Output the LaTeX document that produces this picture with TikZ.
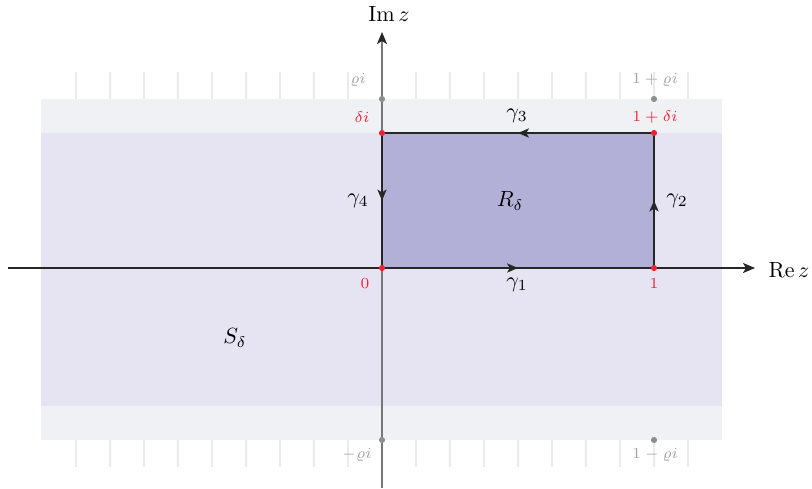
\documentclass[tikz,border=0pt]{standalone}
\usetikzlibrary{arrows.meta,decorations.markings}
\definecolor{bandout}{HTML}{F0F1F4}
\definecolor{bandin}{HTML}{E6E4F2}
\definecolor{rectfill}{HTML}{B3B0D8}
\definecolor{ptred}{HTML}{EE2233}
\definecolor{ptgray}{HTML}{8E8E92}
\definecolor{lblgray}{HTML}{A2A2A6}
\definecolor{tickgray}{HTML}{EAEAEE}
\definecolor{axisgray}{HTML}{76767C}
\tikzset{
  redlbl/.style={text=ptred,font=\scriptsize,inner sep=0pt},
  graylbl/.style={text=lblgray,font=\scriptsize,inner sep=0pt},
  mainlbl/.style={font=\normalsize,inner sep=0pt},
  reddot/.style={circle,fill=ptred,inner sep=0pt,minimum size=2.8pt},
  graydot/.style={circle,fill=ptgray,inner sep=0pt,minimum size=2.8pt},
  edge/.style={line width=0.65pt,draw=black!85},
  midarrow/.style={postaction={decorate,decoration={markings,mark=at position 0.5 with {\arrow{Stealth[length=5pt,width=4.2pt,inset=1.3pt]}}}}},
  tickline/.style={draw=tickgray,line width=0.5pt},
}
\begin{document}
\begin{tikzpicture}[x=0.4545pt,y=-0.4545pt]
\useasboundingbox (0,0) rectangle (812,488);
% bands
\fill[bandout] (41,99) rectangle (722,440);
\fill[bandin] (41,133) rectangle (722,406);
% ticks
\foreach \k in {-9,...,9}{
  \draw[tickline] (382+34*\k,72) -- (382+34*\k,99);
  \draw[tickline] (382+34*\k,440) -- (382+34*\k,467);
}
% rectangle
\coordinate (O) at (382,268);
\coordinate (A) at (654,268);
\coordinate (B) at (654,133);
\coordinate (C) at (382,133);
\fill[rectfill] (O) rectangle (B);
% axes
\coordinate (xs) at (8,268);
\coordinate (xe) at (755,268);
\coordinate (ys) at (382,488);
\coordinate (ye) at (382,32);
\draw[line width=0.6pt,axisgray,-{Stealth[length=5.5pt,width=4.6pt,inset=1.4pt,black!85]}] (ys) -- (ye);
\draw[line width=0.6pt,black!85,-{Stealth[length=5.5pt,width=4.6pt,inset=1.4pt]}] (xs) -- (xe);
% contour
\draw[edge,midarrow] (O) -- (A);
\draw[edge,midarrow] (A) -- (B);
\draw[edge,midarrow] (B) -- (C);
\draw[edge,midarrow] (C) -- (O);
% dots
\node[reddot] (d0) at (O) {};
\node[reddot] (d1) at (A) {};
\node[reddot] (d2) at (B) {};
\node[reddot] (d3) at (C) {};
\node[graydot] (g1) at (382,99) {};
\node[graydot] (g2) at (654,99) {};
\node[graydot] (g3) at (382,440) {};
\node[graydot] (g4) at (654,440) {};
% labels
\node[mainlbl] (imz) at (389,14) {$\mathrm{Im}\,z$};
\node[mainlbl] (rez) at (789,270) {$\mathrm{Re}\,z$};
\node[graylbl] (lrho) at (358,80) {$\varrho i$};
\node[redlbl] (ldel) at (362,117) {$\delta i$};
\node[graylbl] (l1rho) at (655,80) {$1+\varrho i$};
\node[redlbl] (l1del) at (655,117) {$1+\delta i$};
\node[redlbl] (l0) at (365,284) {$0$};
\node[redlbl] (l1) at (654,284) {$1$};
\node[graylbl] (lmrho) at (357,455) {$-\varrho i$};
\node[graylbl] (l1mrho) at (655,455) {$1-\varrho i$};
\node[mainlbl] (g1l) at (517,285) {$\gamma_1$};
\node[mainlbl] (g2l) at (677,201) {$\gamma_2$};
\node[mainlbl] (g3l) at (517,116) {$\gamma_3$};
\node[mainlbl] (g4l) at (358,201) {$\gamma_4$};
\node[mainlbl] (rl) at (510,201) {$R_\delta$};
\node[mainlbl] (sl) at (235,338) {$S_\delta$};
\end{tikzpicture}
\end{document}
